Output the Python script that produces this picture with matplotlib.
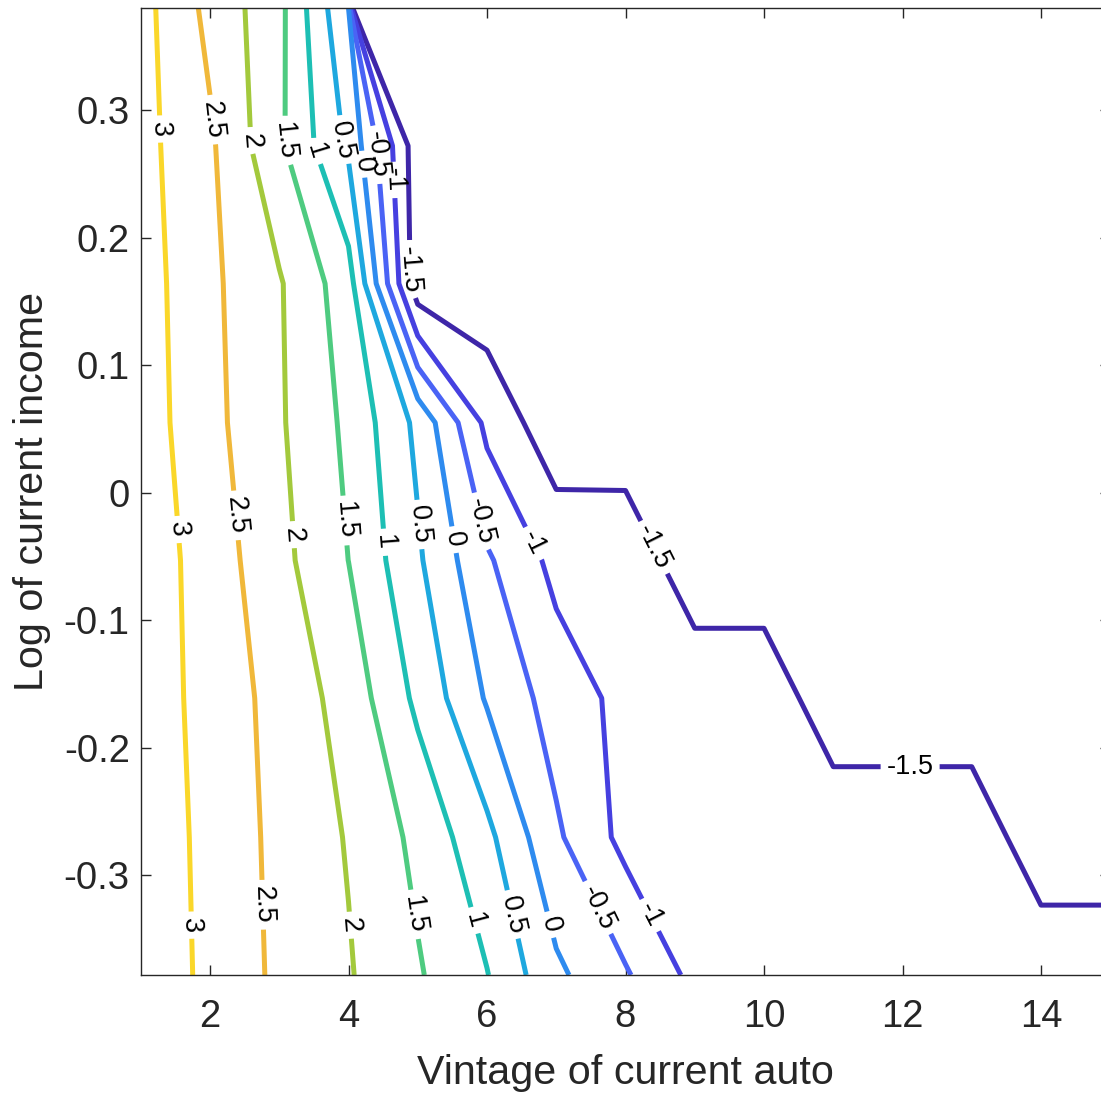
import numpy as np
import matplotlib
matplotlib.use("Agg")
from matplotlib import pyplot as plt

plt.rcParams['font.family'] = ['Liberation Sans', 'DejaVu Sans']
plt.rcParams['axes.unicode_minus'] = False

# grid of the state space
vintage = [1, 2, 3, 4, 5, 6, 7, 8, 9, 10, 11, 12, 13, 14, 15]
log_income = [-0.378, -0.270, -0.161, -0.053, 0.055, 0.164, 0.272, 0.380]

# surface values at the grid nodes, one row per log_income value (bottom to top)
value = [
    [3.36, 2.88, 2.40, 2.04, 1.55, 1.02, 0.10, -0.445, -1.14, -1.15, -1.15, -1.15, -1.15, -1.15, -1.15],
    [3.34, 2.855, 2.37, 1.965, 1.374, 0.63, -0.42, -1.15, -1.15, -1.15, -1.15, -1.15, -1.15, -1.84, -1.84],
    [3.31, 2.81, 2.33, 1.80, 0.89, -0.05, -0.723, -1.145, -1.15, -1.15, -1.84, -1.84, -1.84, -1.84, -1.84],
    [3.31, 2.77, 2.15, 1.497, 0.575, -0.43, -1.15, -1.15, -1.84, -1.84, -1.84, -1.84, -1.84, -1.84, -1.84],
    [3.258, 2.647, 2.063, 1.39, 0.38, -1.13, -1.83, -1.84, -1.84, -1.84, -1.84, -1.84, -1.84, -1.84, -1.84],
    [3.234, 2.607, 2.048, 1.22, -1.83, -1.84, -1.84, -1.84, -1.84, -1.84, -1.84, -1.84, -1.84, -1.84, -1.84],
    [3.17, 2.58, 1.60, 0.41, -1.81, -1.85, -1.85, -1.85, -1.85, -1.85, -1.85, -1.85, -1.85, -1.85, -1.85],
    [3.176, 2.363, 1.644, 0.005, -25, -25, -25, -25, -25, -25, -25, -25, -25, -25, -25],
]

levels = [-1.5, -1, -0.5, 0, 0.5, 1, 1.5, 2, 2.5, 3]
level_colors = ['#3e26a8', '#4640e0', '#4a63f5', '#2e8bef', '#1ea8df',
                '#1dbfb4', '#4ecb80', '#a3c93c', '#f0b83a', '#fad72a']

# where the inline labels sit (three per level, as in the original)
label_spots = [
    (1.21, 0.285), (1.49, -0.029), (1.67, -0.339),
    (1.96, 0.292), (2.32, -0.018), (2.73, -0.323),
    (2.56, 0.276), (3.16, -0.033), (4.02, -0.339),
    (3.06, 0.276), (3.89, -0.022), (4.89, -0.331),
    (3.49, 0.267), (4.47, -0.039), (5.83, -0.335),
    (3.81, 0.276), (5.00, -0.025), (6.33, -0.331),
    (4.12, 0.257), (5.50, -0.037), (6.88, -0.339),
    (4.41, 0.265), (5.94, -0.022), (7.53, -0.327),
    (4.57, 0.245), (6.62, -0.041), (8.36, -0.331),
    (4.86, 0.175), (8.33, -0.045), (12.11, -0.215),
]

X, Y = np.meshgrid(vintage, log_income)
Z = np.array(value)

fig = plt.figure(figsize=(11.01, 10.98), dpi=100)
ax = fig.add_axes([140.75 / 1101, 123 / 1098, 969.5 / 1101, 967 / 1098])

cs = ax.contour(X, Y, Z, levels=levels, colors=level_colors, linewidths=3.6)
ax.clabel(cs, levels, inline=True, fmt='%g', fontsize=19.5, colors='black',
          manual=label_spots, inline_spacing=6)

ax.set_xlim(1, 15)
ax.set_ylim(-0.378, 0.380)
ax.set_xticks([2, 4, 6, 8, 10, 12, 14])
ax.set_yticks([-0.3, -0.2, -0.1, 0, 0.1, 0.2, 0.3])
ax.set_yticklabels(['-0.3', '-0.2', '-0.1', '0', '0.1', '0.2', '0.3'])
ax.tick_params(direction='in', length=7, width=1, top=True, right=True,
               labelsize=27.5, colors='#262626')
ax.tick_params(axis='x', pad=17)
ax.tick_params(axis='y', pad=8)
for s in ax.spines.values():
    s.set_color('#262626')
    s.set_linewidth(1)

ax.set_xlabel('Vintage of current auto', fontsize=29.7, color='#262626', labelpad=14)
ax.set_ylabel('Log of current income', fontsize=29.7, color='#262626', labelpad=9)

fig.savefig('out.png', dpi=100)
